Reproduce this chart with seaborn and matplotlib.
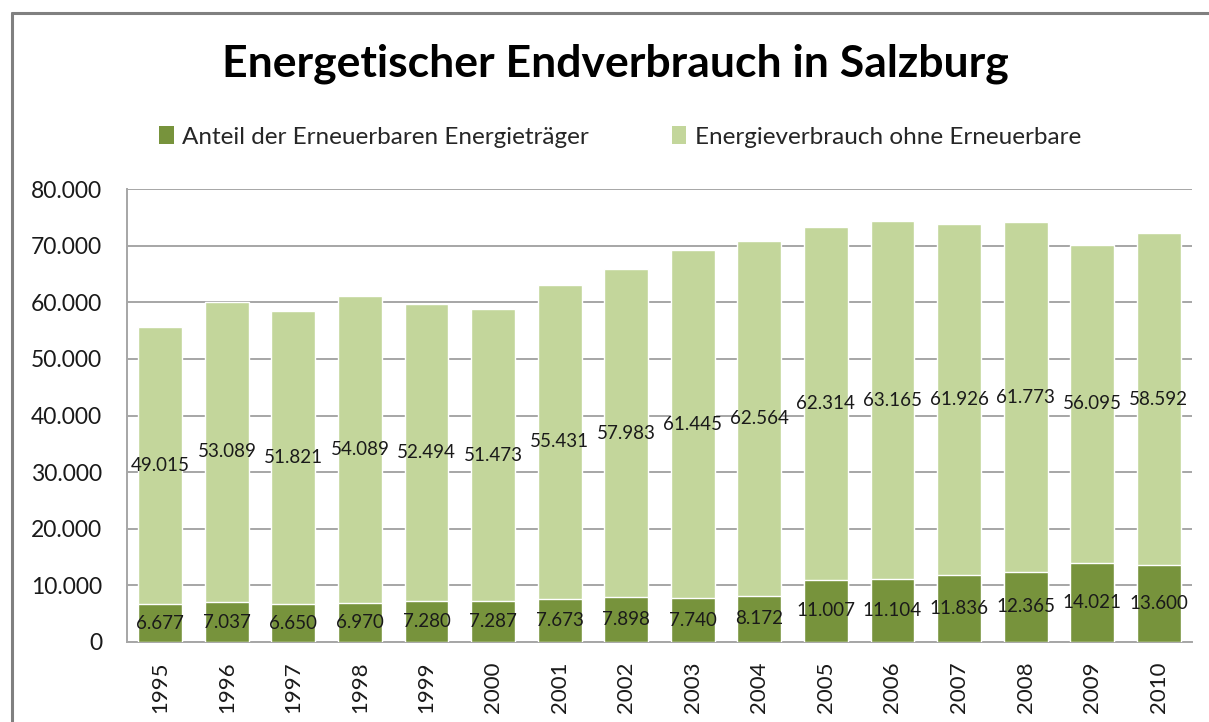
import matplotlib
matplotlib.use("Agg")
import matplotlib.pyplot as plt
import seaborn as sns
import pandas as pd
from matplotlib.patches import Patch
from matplotlib.lines import Line2D

years = ["1995", "1996", "1997", "1998", "1999", "2000", "2001", "2002",
         "2003", "2004", "2005", "2006", "2007", "2008", "2009", "2010"]
renewable = [6677, 7037, 6650, 6970, 7280, 7287, 7673, 7898,
             7740, 8172, 11007, 11104, 11836, 12365, 14021, 13600]
non_renewable = [49015, 53089, 51821, 54089, 52494, 51473, 55431, 57983,
                 61445, 62564, 62314, 63165, 61926, 61773, 56095, 58592]
series_names = ["Anteil der Erneuerbaren Energieträger", "Energieverbrauch ohne Erneuerbare"]
title = "Energetischer Endverbrauch in Salzburg"
yticks = [0, 10000, 20000, 30000, 40000, 50000, 60000, 70000, 80000]

dark = "#77933C"
light = "#C3D69B"
FONT = ["Lato", "DejaVu Sans"]

def de(v):
    return f"{v:,}".replace(",", ".")

sns.set_theme(style="white")
plt.rcParams["font.family"] = FONT

df = pd.DataFrame({"year": years, "ren": renewable, "non": non_renewable})
df["total"] = df["ren"] + df["non"]

fig = plt.figure(figsize=(12.09, 7.22), dpi=100)
ax = fig.add_axes([127 / 1209, 1 - 642 / 722, (1192 - 127) / 1209, (642 - 189) / 722])

sns.barplot(data=df, x="year", y="total", color=light, saturation=1, width=0.66, ax=ax, zorder=2)
sns.barplot(data=df, x="year", y="ren", color=dark, saturation=1, width=0.66, ax=ax, zorder=3)

for i, (r, n) in enumerate(zip(renewable, non_renewable)):
    ax.text(i, r / 2, de(r), ha="center", va="center", fontsize=13.5, color="#1a1a1a", zorder=5)
    ax.text(i, r + n / 2, de(n), ha="center", va="center", fontsize=13.5, color="#1a1a1a", zorder=5)

ax.set_ylim(0, 80000)
ax.set_xlim(-0.5, len(years) - 0.5)
ax.set_yticks(yticks)
ax.set_yticklabels([de(v) for v in yticks], fontsize=16.5, color="#1a1a1a")
ax.set_xticks(range(len(years)))
ax.set_xticklabels(years, rotation=90, fontsize=16, color="#1a1a1a")
ax.tick_params(axis="y", length=0, pad=18)
ax.tick_params(axis="x", length=0, pad=14)
ax.set_xlabel("")
ax.set_ylabel("")
ax.yaxis.grid(True, color="#a6a6a6", linewidth=1.4, zorder=0)
ax.set_axisbelow(True)
for s in ["top", "right"]:
    ax.spines[s].set_visible(False)
for s in ["left", "bottom"]:
    ax.spines[s].set_color("#a6a6a6")
    ax.spines[s].set_linewidth(1.4)

fig.text(0.509, 1 - 77 / 722, title, ha="center", va="baseline",
         fontsize=32, fontweight="bold", color="black")

handles = [Patch(facecolor=dark, edgecolor="none"), Patch(facecolor=light, edgecolor="none")]
fig.legend(handles, series_names, loc="center", bbox_to_anchor=(0.513, 1 - 137 / 722),
           ncol=2, frameon=False, fontsize=17.5, handlelength=0.6, handleheight=0.7,
           handletextpad=0.35, columnspacing=3.4)

fig.add_artist(Line2D([12 / 1209, 1.0], [1 - 13 / 722, 1 - 13 / 722], color="#808080", linewidth=2.2))
fig.add_artist(Line2D([12 / 1209, 12 / 1209], [0, 1 - 13 / 722], color="#808080", linewidth=2.2))

fig.savefig("out.png", dpi=100, facecolor="white")
